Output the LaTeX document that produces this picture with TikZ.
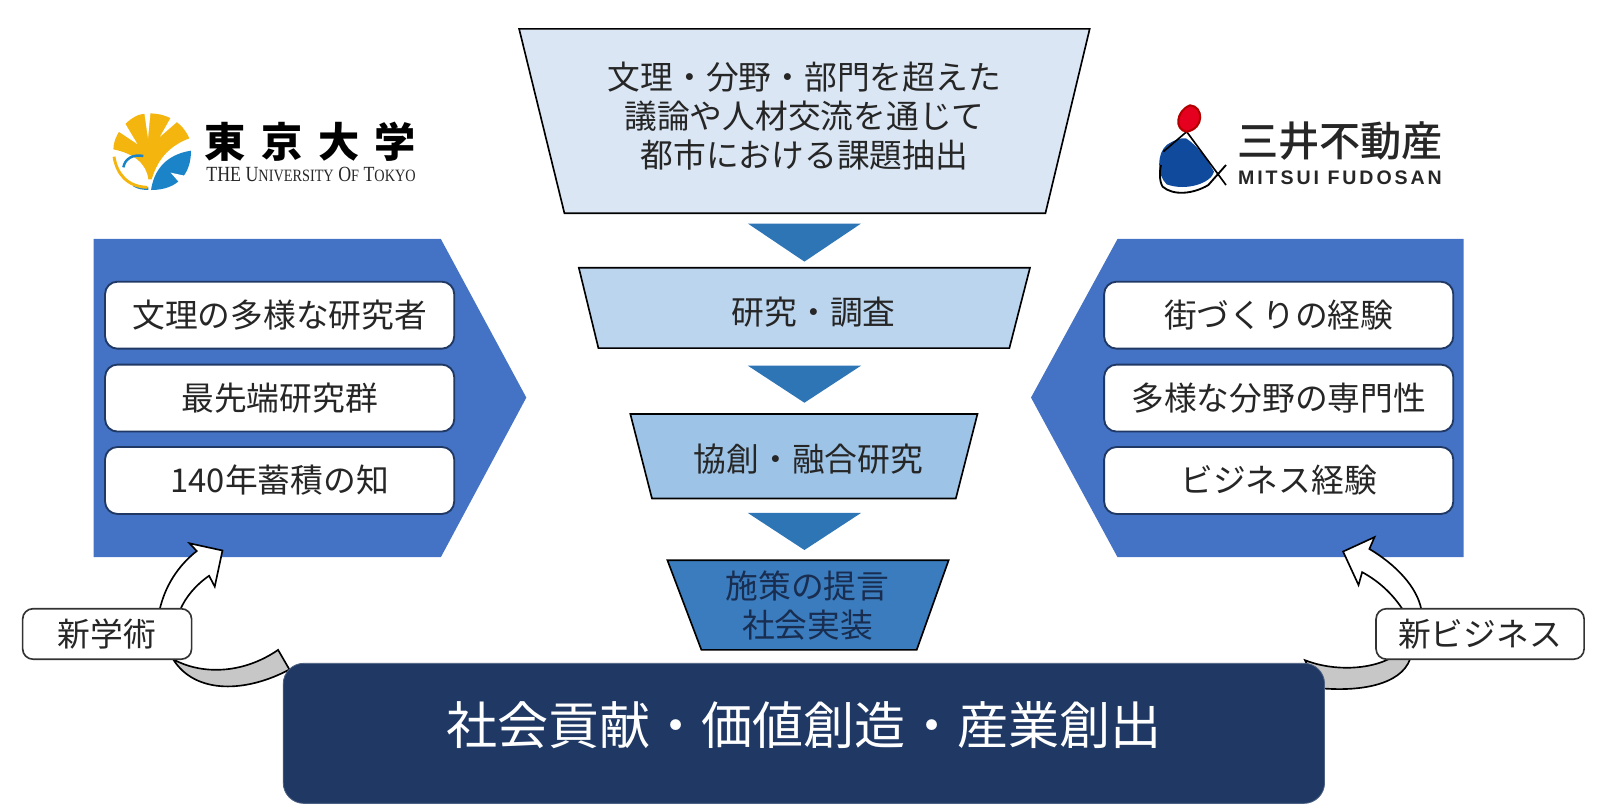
\documentclass[tikz,border=0pt]{standalone}
\usepackage{fontspec}
\setmainfont{Noto Sans CJK JP}
\newfontfamily\mfname{Noto Sans CJK JP Medium}
\newfontfamily\utlatin{Liberation Serif}
\newfontfamily\mflatin[LetterSpace=15]{Liberation Sans}
\definecolor{funnelA}{HTML}{DAE6F4}
\definecolor{funnelB}{HTML}{BBD5EE}
\definecolor{funnelC}{HTML}{9DC3E6}
\definecolor{funnelD}{HTML}{3A7CBD}
\definecolor{stepblue}{HTML}{2E75B6}
\definecolor{sideblue}{HTML}{4472C4}
\definecolor{navy}{HTML}{1F3864}
\definecolor{utyellow}{HTML}{F5B50F}
\definecolor{utblue}{HTML}{1B84C8}
\definecolor{mfblue}{HTML}{0F4A9C}
\definecolor{mfred}{HTML}{E6001F}
\tikzset{
  funnel/.style={draw=black,line width=0.8pt},
  funneltext/.style={font=\fontsize{15.9pt}{19pt}\selectfont,text=black!85,align=center,inner sep=0pt},
  pill/.style={draw=navy,line width=0.9pt,fill=white,rounded corners=6pt,inner sep=0pt,
    minimum width=169.5pt,minimum height=32.5pt,font=\fontsize{15.9pt}{19pt}\selectfont,text=black!85},
  tag/.style={draw=black!80,line width=0.8pt,fill=white,rounded corners=5pt,inner sep=0pt,
    minimum height=24.5pt,font=\fontsize{15.9pt}{19pt}\selectfont,text=black!85},
  sweep/.style={draw=black,line width=0.8pt,line join=miter},
}
\begin{document}
\begin{tikzpicture}[x=0.5pt,y=-0.5pt]
\useasboundingbox (0,0) rectangle (1568,786);

% Funnel
\draw[funnel,fill=funnelA] (504,28) -- (1058,28) -- (1015,207) -- (548,207) -- cycle;
\draw[funnel,fill=funnelB] (562,260) -- (1000,260) -- (980,338) -- (581,338) -- cycle;
\draw[funnel,fill=funnelC] (612,402) -- (949,402) -- (928,484) -- (633,484) -- cycle;
\draw[funnel,fill=funnelD] (648,544) -- (921,544) -- (890,631) -- (681,631) -- cycle;
\node[funneltext] (issues) at (781,113) {文理・分野・部門を超えた\\議論や人材交流を通じて\\都市における課題抽出};
\node[funneltext] (survey) at (790,303) {研究・調査};
\node[funneltext] (cocreate) at (785,446) {協創・融合研究};
\node[funneltext,text=navy!80!black] (proposal) at (784,588) {施策の提言\\社会実装};

% Steps between the funnel parts
\fill[stepblue] (726,217) -- (836,217) -- (781,254) -- cycle;
\fill[stepblue] (726,355) -- (836,355) -- (781,391) -- cycle;
\fill[stepblue] (726,498) -- (836,498) -- (781,534) -- cycle;

% Side panels
\fill[sideblue] (91,232) -- (428,232) -- (511,386) -- (428,541) -- (91,541) -- cycle;
\fill[sideblue] (1421,232) -- (1085,232) -- (1001,386) -- (1085,541) -- (1421,541) -- cycle;
\node[pill] (scholars) at (271.5,306) {文理の多様な研究者};
\node[pill] (frontier) at (271.5,386.5) {最先端研究群};
\node[pill] (knowledge) at (271.5,466.5) {140年蓄積の知};
\node[pill] (urban) at (1241.5,306) {街づくりの経験};
\node[pill] (expertise) at (1241.5,386.5) {多様な分野の専門性};
\node[pill] (business) at (1241.5,466.5) {ビジネス経験};

% Curved arrows
\draw[sweep,fill=black!22] (168,640) .. controls (195,655) and (235,655) .. (270,631) -- (281,650)
  .. controls (240,672) and (190,675) .. (168,640) -- cycle;
\draw[sweep,fill=white] (155,592) .. controls (160,570) and (172,550) .. (191,535) -- (184,527.5)
  -- (216,534.5) -- (208.5,569.5) -- (203,559) .. controls (190,568) and (180,580) .. (175,592) -- cycle;
\draw[sweep,fill=black!22] (1267,641) .. controls (1295,652) and (1330,650) .. (1350,639) -- (1369,640)
  .. controls (1360,665) and (1320,672) .. (1280,668) -- cycle;
\draw[sweep,fill=white] (1380,592) .. controls (1376,570) and (1355,548) .. (1329.5,533) -- (1334.5,521.5)
  -- (1304,535.5) -- (1319,568) -- (1322.5,555.5) .. controls (1340,565) and (1353,578) .. (1362,592) -- cycle;

% Result bar and tags
\node[draw=navy!80,fill=navy,rounded corners=10pt,minimum width=505.5pt,minimum height=68pt,
  inner sep=0pt,text=white,font=\fontsize{24.8pt}{29pt}\selectfont] (value) at (780.5,712) {\raisebox{10pt}{社会貢献・価値創造・産業創出}};
\node[tag,minimum width=82pt] (newscience) at (104,615.5) {新学術};
\node[tag,minimum width=101pt] (newbiz) at (1437,615.5) {新ビジネス};

% University logo
\begin{scope}[shift={(87.4,87.4)},x=0.1618pt,y=-0.1618pt]
\fill[utyellow] (70,178) .. controls (70,140) and (100,95) .. (145,75) .. controls (200,60) and (270,80) .. (298,145)
  .. controls (245,165) and (205,200) .. (185,268) -- (175,268) .. controls (170,220) and (130,190) .. (70,178) -- cycle;
\fill[white] (82,122) -- (105,100) -- (142,162) -- cycle;
\fill[white] (162,62) -- (182,62) -- (174,145) -- cycle;
\fill[white] (245,78) -- (262,95) -- (210,140) -- cycle;
\fill[utblue] (303,182) .. controls (250,190) and (195,220) .. (183,300) .. controls (265,300) and (303,250) .. (303,182) -- cycle;
\fill[white] (288,258) -- (270,280) -- (242,248) -- cycle;
\draw[utblue,line width=1.2pt] (100,232) .. controls (105,205) and (130,192) .. (160,198);
\draw[utblue,line width=1.2pt] (130,285) .. controls (145,295) and (160,296) .. (175,296);
\draw[utyellow,line width=1.4pt] (72,200) .. controls (80,250) and (110,290) .. (172,292);
\end{scope}
\node[inner sep=0pt,font=\fontsize{20pt}{24pt}\selectfont\bfseries,text=black] (utname) at (301.5,138) {東\hspace{7.5pt}京\hspace{7.5pt}大\hspace{7.5pt}学};
\node[inner sep=0pt,font=\utlatin\fontsize{10.5pt}{12pt}\selectfont,text=black!85,xscale=0.825] (utlatin) at (302,169)
  {THE U{\fontsize{8.4pt}{10pt}\selectfont NIVERSITY} O{\fontsize{8.4pt}{10pt}\selectfont F} T{\fontsize{8.4pt}{10pt}\selectfont OKYO}};

% Developer logo
\begin{scope}[shift={(1077.7,87.4)},x=0.1618pt,y=-0.1618pt]
\fill[mfblue] (228,145) .. controls (260,165) and (290,205) .. (312,245) .. controls (305,278) and (230,305) .. (170,283)
  .. controls (140,255) and (140,190) .. (170,165) .. controls (195,148) and (215,143) .. (228,145) -- cycle;
\draw[black,line width=0.8pt] (160,185) -- (230,125) -- (348,285);
\draw[black,line width=0.9pt] (348,225) -- (295,285) .. controls (250,312) and (190,318) .. (158,290) .. controls (148,275) and (148,245) .. (153,225);
\draw[fill=mfred,draw=red!70!black,line width=1pt] (230,125) .. controls (192,120) and (198,62) .. (240,46)
  .. controls (280,48) and (285,115) .. (230,125) -- cycle;
\end{scope}
\node[inner sep=0pt,font=\mfname\fontsize{20pt}{24pt}\selectfont,text=black!85] (mfnamejp) at (1301,137) {三井不動産};
\node[inner sep=0pt,font=\mflatin\fontsize{9.5pt}{11pt}\selectfont\bfseries,text=black!85] (mflatinname) at (1301,173) {MITSUI FUDOSAN};
\end{tikzpicture}
\end{document}
